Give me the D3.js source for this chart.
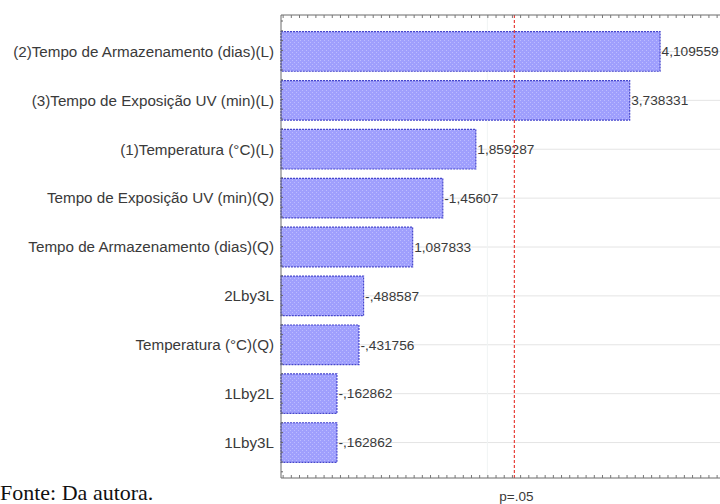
<!DOCTYPE html>
<html>
<head>
<meta charset="utf-8">
<script src="https://cdn.jsdelivr.net/npm/d3@7"></script>
<style>
  html, body { margin: 0; padding: 0; background: #fff; }
  svg { display: block; }
</style>
</head>
<body>
<svg id="chart" width="720" height="504"></svg>
<script>
// Pareto chart of standardized effects (t values), ordered by magnitude
const categories = [
  "(2)Tempo de Armazenamento (dias)(L)",
  "(3)Tempo de Exposição UV (min)(L)",
  "(1)Temperatura (°C)(L)",
  "Tempo de Exposição UV (min)(Q)",
  "Tempo de Armazenamento (dias)(Q)",
  "2Lby3L",
  "Temperatura (°C)(Q)",
  "1Lby2L",
  "1Lby3L"
];
const effects = [4.109559, 3.738331, 1.859287, -1.45607, 1.087833, -0.488587, -0.431756, -0.162862, -0.162862];
const criticalT = 2.33;          // significance threshold line
const criticalLabel = ["p=.05"];
const sourceNote = ["Fonte: Da autora."];

const svg = d3.select("#chart");
const frame = { left: 281, top: 15, bottom: 478, right: 733 };

const x = d3.scaleLinear().domain([-0.52, 5.0]).range([frame.left, frame.right]);
const y = d3.scaleBand().domain(categories).range([27, 467]).paddingInner(0.19).paddingOuter(0.095);

// bar fill: light blue with a fine dot texture
const defs = svg.append("defs");
const pat = defs.append("pattern").attr("id", "dots")
  .attr("width", 4).attr("height", 4).attr("patternUnits", "userSpaceOnUse");
pat.append("rect").attr("width", 4).attr("height", 4).attr("fill", "#9f9ffd");
pat.append("rect").attr("x", 0).attr("y", 0).attr("width", 1).attr("height", 1).attr("fill", "#bcbcff");
pat.append("rect").attr("x", 2).attr("y", 2).attr("width", 1).attr("height", 1).attr("fill", "#bcbcff");

// horizontal grid at each category
svg.append("g").selectAll("line").data(categories).join("line")
  .attr("x1", frame.left).attr("x2", 720)
  .attr("y1", d => y(d) + y.bandwidth() / 2)
  .attr("y2", d => y(d) + y.bandwidth() / 2)
  .attr("stroke", "#e4e4e4").attr("stroke-width", 1);

// faint vertical grid line
svg.append("line")
  .attr("x1", x(2)).attr("x2", x(2)).attr("y1", frame.top).attr("y2", frame.bottom)
  .attr("stroke", "#f0f4f4").attr("stroke-width", 1);

// bars (absolute effect size)
svg.append("g").selectAll("rect").data(effects).join("rect")
  .attr("x", x.range()[0])
  .attr("y", (d, i) => y(categories[i]))
  .attr("width", d => x(Math.abs(d)) - x.range()[0])
  .attr("height", y.bandwidth())
  .attr("fill", "url(#dots)")
  .attr("stroke", "#4646cc").attr("stroke-width", 1.2)
  .attr("stroke-dasharray", "2,1");

// value labels in Statistica style: comma decimal, no leading zero
const fmt = v => {
  let s = Math.abs(v).toFixed(6).replace(/0+$/, "").replace(/\.$/, "");
  if (s.startsWith("0.")) s = s.slice(1);
  return (v < 0 ? "-" : "") + s.replace(".", ",");
};
svg.append("g").selectAll("text").data(effects).join("text")
  .attr("x", d => x(Math.abs(d)) + 1.5)
  .attr("y", (d, i) => y(categories[i]) + y.bandwidth() / 2)
  .attr("dy", "0.35em")
  .attr("font-family", "Liberation Sans, Arial, sans-serif")
  .attr("font-size", 13.7)
  .attr("fill", "#3a3a3a")
  .text(fmt);

// category labels
svg.append("g").selectAll("text").data(categories).join("text")
  .attr("x", frame.left - 7)
  .attr("y", d => y(d) + y.bandwidth() / 2)
  .attr("dy", "0.35em")
  .attr("text-anchor", "end")
  .attr("font-family", "Liberation Sans, Arial, sans-serif")
  .attr("font-size", 15.2)
  .attr("fill", "#3a3a3a")
  .text(d => d);

// critical value line
svg.append("line")
  .attr("x1", x(criticalT)).attr("x2", x(criticalT))
  .attr("y1", frame.top).attr("y2", frame.bottom)
  .attr("stroke", "#e8403a").attr("stroke-width", 1.2)
  .attr("stroke-dasharray", "3,2");

// frame lines
const frameColor = "#6a6a6a";
svg.append("line").attr("x1", frame.left).attr("x2", 720).attr("y1", frame.top).attr("y2", frame.top)
  .attr("stroke", frameColor).attr("stroke-width", 1);
svg.append("line").attr("x1", frame.left).attr("x2", 720).attr("y1", frame.bottom).attr("y2", frame.bottom)
  .attr("stroke", frameColor).attr("stroke-width", 1);
svg.append("line").attr("x1", frame.left).attr("x2", frame.left).attr("y1", frame.top).attr("y2", frame.bottom)
  .attr("stroke", frameColor).attr("stroke-width", 1);

// minor ticks on top and bottom edges
const minorTicks = d3.range(-0.5, 5.0, 0.1);
const topAxis = d3.axisTop(x).tickValues(minorTicks).tickSize(3).tickFormat("");
const botAxis = d3.axisBottom(x).tickValues(minorTicks).tickSize(3).tickFormat("");
svg.append("g").attr("transform", `translate(0,${frame.top + 3})`).call(topAxis)
  .call(g => g.select(".domain").remove())
  .call(g => g.selectAll("line").attr("stroke", "#777"));
svg.append("g").attr("transform", `translate(0,${frame.bottom - 3})`).call(botAxis)
  .call(g => g.select(".domain").remove())
  .call(g => g.selectAll("line").attr("stroke", "#777"));

// minor ticks on the left edge
const leftTicks = d3.range(frame.top + 6, frame.bottom, 9.8);
svg.append("g").selectAll("line").data(leftTicks).join("line")
  .attr("x1", frame.left).attr("x2", frame.left + 2)
  .attr("y1", d => d).attr("y2", d => d)
  .attr("stroke", "#666");

// threshold label
svg.append("text")
  .attr("x", x(criticalT) + 2).attr("y", 501)
  .attr("text-anchor", "middle")
  .attr("font-family", "Liberation Sans, Arial, sans-serif")
  .attr("font-size", 13.5)
  .attr("fill", "#3a3a3a")
  .text(criticalLabel[0]);

// source note
svg.append("text")
  .attr("x", 0).attr("y", 500)
  .attr("font-family", "Liberation Serif, 'Times New Roman', serif")
  .attr("font-size", 22)
  .attr("fill", "#111")
  .text(sourceNote[0]);
</script>
</body>
</html>
